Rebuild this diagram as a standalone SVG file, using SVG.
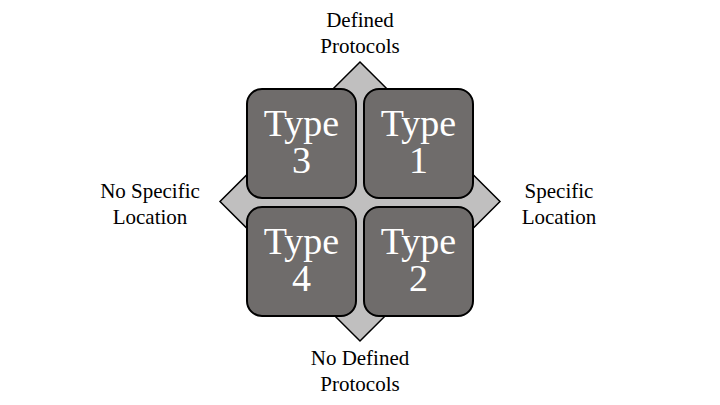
<svg xmlns="http://www.w3.org/2000/svg" width="720" height="405" viewBox="0 0 720 405">
<style>
.box{fill:#6f6c6b;stroke:#000;stroke-width:2}
.t{font-family:"Liberation Serif",serif;font-size:38px;fill:#fff;text-anchor:middle}
.l{font-family:"Liberation Serif",serif;font-size:21px;fill:#000;text-anchor:middle}
</style>
<rect width="720" height="405" fill="#fff"/>
<g id="diamond"><polygon points="360,62 500,201.5 360,341 220,201.5" fill="#c0bfbf" stroke="#000" stroke-width="1.5"/></g>
<g id="type3"><rect class="box" x="247" y="89" width="109" height="109" rx="15"/><text class="t"><tspan x="301.5" y="136">Type</tspan><tspan x="301.5" y="173">3</tspan></text></g>
<g id="type1"><rect class="box" x="364" y="89" width="109" height="109" rx="15"/><text class="t"><tspan x="418.5" y="136">Type</tspan><tspan x="418.5" y="173">1</tspan></text></g>
<g id="type4"><rect class="box" x="247" y="207" width="109" height="109" rx="15"/><text class="t"><tspan x="301.5" y="254">Type</tspan><tspan x="301.5" y="291">4</tspan></text></g>
<g id="type2"><rect class="box" x="364" y="207" width="109" height="109" rx="15"/><text class="t"><tspan x="418.5" y="254">Type</tspan><tspan x="418.5" y="291">2</tspan></text></g>
<g id="top"><text class="l"><tspan x="360" y="27">Defined</tspan><tspan x="360" y="53">Protocols</tspan></text></g>
<g id="left"><text class="l"><tspan x="150" y="198">No Specific</tspan><tspan x="150" y="224">Location</tspan></text></g>
<g id="right"><text class="l"><tspan x="559" y="198">Specific</tspan><tspan x="559" y="224">Location</tspan></text></g>
<g id="bottom"><text class="l"><tspan x="360" y="365">No Defined</tspan><tspan x="360" y="391">Protocols</tspan></text></g>
<g id="connectors"></g>
</svg>
